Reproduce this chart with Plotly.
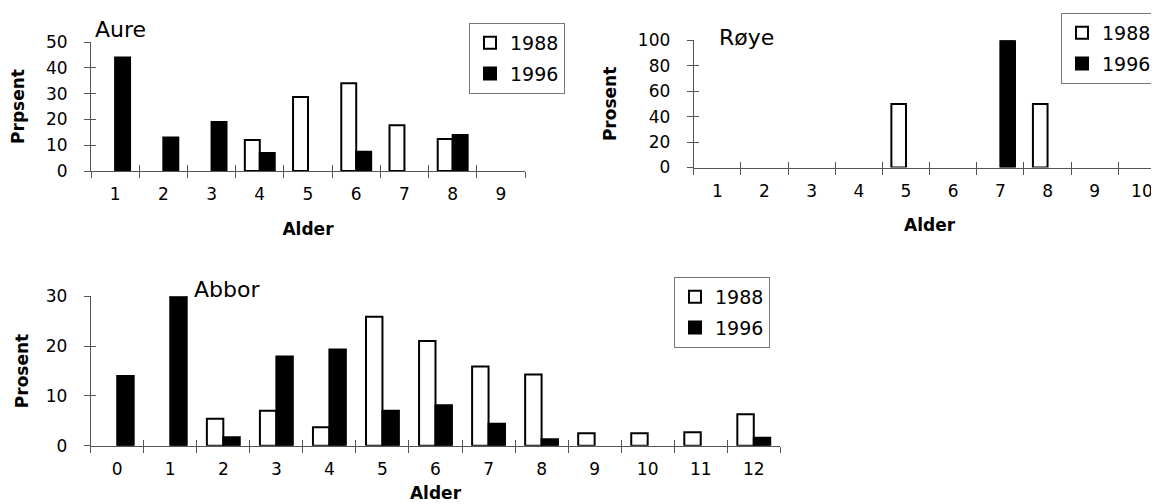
import plotly.graph_objects as go

W, H = 1159, 504

# ---------------- data ----------------
aure_age = [1, 2, 3, 4, 5, 6, 7, 8, 9]
aure_1988 = [None, None, None, 12, 28.7, 34, 17.7, 12.4, None]
aure_1996 = [44, 13, 19, 7, None, 7.5, None, 14, None]

roye_age = [1, 2, 3, 4, 5, 6, 7, 8, 9, 10]
roye_1988 = [None, None, None, None, 50, None, None, 50, None, None]
roye_1996 = [None, None, None, None, None, None, 100, None, None, None]

abbor_age = [0, 1, 2, 3, 4, 5, 6, 7, 8, 9, 10, 11, 12]
abbor_1988 = [None, None, 5.4, 7.0, 3.7, 25.9, 21.0, 15.9, 14.3, 2.5, 2.5, 2.7, 6.3]
abbor_1996 = [14, 30.2, 1.7, 17.9, 19.3, 7.0, 8.1, 4.4, 1.3, None, None, None, 1.6]

years = ["1988", "1996"]

FONT = "DejaVu Sans, sans-serif"
AX = "#555555"


def px(x):
    return x / W


def py(y):
    return 1 - y / H


fig = go.Figure()

panels = [
    # name, ages, s1988, s1996, xid, yid, legend, xdom(px), ydom(px bottom, top), ymax, ydtick, ytitle, x-title standoff, y-title standoff
    ("Aure", aure_age, aure_1988, aure_1996, "x", "y", "legend", (83, 517), (163, 34), 50, 10, "Prpsent", 19, 17),
    ("Røye", roye_age, roye_1988, roye_1996, "x2", "y2", "legend2", (685.7, 1157.5), (159.5, 32.3), 100, 20, "Prosent", 19, 16),
    ("Abbor", abbor_age, abbor_1988, abbor_1996, "x3", "y3", "legend3", (82.7, 772.3), (437.7, 288.3), 30, 10, "Prosent", 9, 12),
]

overlay_ids = [(4, 5, 4), (6, 7, 5), (8, 9, 6)]

for (name, ages, s88, s96, xid, yid, leg, xd, yd, ymax, ydt, ytit, xst, yst), (ox1, ox2, oy) in zip(panels, overlay_ids):
    fig.add_trace(go.Bar(x=ages, y=s88, name=years[0], xaxis=xid, yaxis=yid, legend=leg,
                         legendgroup=name + "a",
                         marker=dict(color="white", line=dict(color="black", width=2))))
    fig.add_trace(go.Bar(x=ages, y=s96, name=years[1], xaxis=xid, yaxis=yid, legend=leg,
                         legendgroup=name + "b",
                         marker=dict(color="black", line=dict(color="black", width=2))))
    xn = xid[1:] if len(xid) > 1 else ""
    yn = yid[1:] if len(yid) > 1 else ""
    xr = [ages[0] - 0.5, ages[-1] + 0.5]
    bounds = [a - 0.5 for a in ages] + [ages[-1] + 0.5]
    fig.layout["xaxis" + xn] = dict(
        domain=[px(xd[0]), px(xd[1])], anchor=yid, range=xr,
        tickvals=ages, ticktext=[str(a) for a in ages], ticks="",
        showline=True, linecolor=AX, linewidth=1, showgrid=False, zeroline=False,
        ticklabelstandoff=8,
        tickfont=dict(family=FONT, size=17, color="black"),
        title=dict(text="<b>Alder</b>", font=dict(family=FONT, size=17, color="black"), standoff=xst),
    )
    fig.layout["yaxis" + yn] = dict(
        domain=[py(yd[0]), py(yd[1])], anchor=xid, range=[0, ymax],
        tickmode="linear", tick0=0, dtick=ydt, ticks="outside", ticklen=6, tickcolor=AX,
        showline=True, linecolor=AX, linewidth=1, showgrid=False, zeroline=False,
        ticklabelstandoff=13,
        tickfont=dict(family=FONT, size=17, color="black"),
        title=dict(text="<b>%s</b>" % ytit, font=dict(family=FONT, size=17, color="black"), standoff=yst),
    )
    for oid, side in ((ox1, "outside"), (ox2, "inside")):
        fig.layout["xaxis%d" % oid] = dict(
            overlaying=xid, anchor=yid, range=xr, tickvals=bounds, ticks=side, ticklen=6,
            tickcolor=AX, showticklabels=False, showline=False, showgrid=False, zeroline=False,
        )
        # invisible helper trace so that the overlay axis is drawn
        fig.add_trace(go.Scatter(x=xr, y=[0, 0], xaxis="x%d" % oid, yaxis=yid, mode="none",
                                 showlegend=False, hoverinfo="skip"))
    fig.layout["yaxis%d" % oy] = dict(
        overlaying=yid, anchor=xid, side="left", range=[0, ymax], tickmode="linear", tick0=0,
        dtick=ydt, ticks="inside", ticklen=5, tickcolor=AX, showticklabels=False,
        showline=False, showgrid=False, zeroline=False,
    )
    fig.add_trace(go.Scatter(x=xr, y=[0, 0], xaxis=xid, yaxis="y%d" % oy, mode="none",
                             showlegend=False, hoverinfo="skip"))

leg_common = dict(
    bgcolor="white", bordercolor="#777777", borderwidth=1,
    font=dict(family=FONT, size=19, color="black"),
    xanchor="left", yanchor="top", traceorder="grouped", tracegroupgap=3,
    itemwidth=30,
)
fig.update_layout(
    legend=dict(x=px(461), y=py(15), **leg_common),
    legend2=dict(x=px(1053), y=py(5), **leg_common),
    legend3=dict(x=px(666), y=py(269), **leg_common),
)

titles = [("Aure", 85, 22), ("Røye", 709, 29), ("Abbor", 184, 281)]
for t, x, y in titles:
    fig.add_annotation(text=t, x=px(x), y=py(y), xref="paper", yref="paper",
                       xanchor="left", yanchor="middle", showarrow=False,
                       font=dict(family=FONT, size=22, color="black"))

fig.update_layout(
    width=W, height=H, margin=dict(l=0, r=0, t=0, b=0, autoexpand=False),
    paper_bgcolor="white", plot_bgcolor="white",
    barmode="group", bargap=0.38, bargroupgap=0,
    showlegend=True,
)

fig.write_html("out.html")
